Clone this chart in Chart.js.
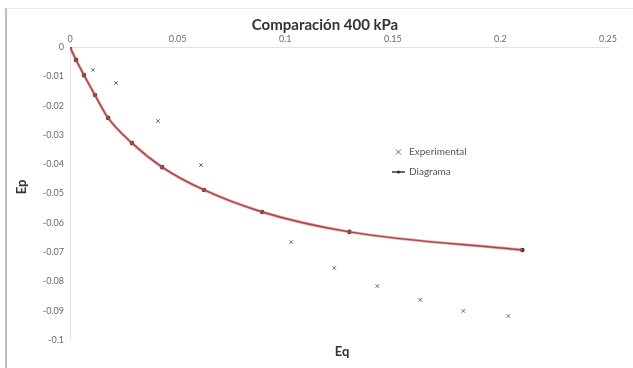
<!DOCTYPE html>
<html>
<head>
<meta charset="utf-8">
<script src="https://cdn.jsdelivr.net/npm/chart.js@4.4.0/dist/chart.umd.min.js"></script>
<style>
  html, body { margin: 0; padding: 0; background: #fff; }
  #wrap { position: relative; width: 633px; height: 368px; }
  #frame { position: absolute; left: 5px; top: 8px; width: 640px; height: 370px; border-left: 2px solid #bdbdbd; border-top: 1px solid #ececec; }
</style>
</head>
<body>
<div id="wrap">
  <div id="frame"></div>
  <canvas id="chart" width="633" height="368"></canvas>
</div>
<script>
// tick labels
const xTicks = [0, 0.05, 0.1, 0.15, 0.2, 0.25];
const yTicks = [0, -0.01, -0.02, -0.03, -0.04, -0.05, -0.06, -0.07, -0.08, -0.09, -0.1];

// Experimental series
const expX = [0, 0.0107, 0.0214, 0.0409, 0.0609, 0.1028, 0.1228, 0.1428, 0.1628, 0.1828, 0.2037];
const expY = [0, -0.0078, -0.0123, -0.0253, -0.0403, -0.0666, -0.0754, -0.0816, -0.0863, -0.0901, -0.0918];

// Diagrama series
const diaX = [0, 0.0028, 0.0065, 0.0116, 0.0177, 0.0288, 0.0428, 0.0623, 0.0893, 0.1298, 0.2102];
const diaY = [0, -0.0044, -0.0096, -0.0164, -0.0242, -0.0328, -0.0410, -0.0488, -0.0563, -0.0631, -0.0693];

const toPoints = (xs, ys) => xs.map((x, i) => ({ x: x, y: ys[i] }));

const textPlugin = {
    id: 'texts',
    afterDraw(chart) {
        const c = chart.ctx;
        c.save();
        c.fillStyle = '#333';
        c.textAlign = 'center';
        c.textBaseline = 'middle';
        c.font = 'bold 15px Lato, "Open Sans", sans-serif';
        c.fillText('Comparación 400 kPa', 325, 25);
        c.font = 'bold 13px Lato, "Open Sans", sans-serif';
        c.fillText('Eq', 342, 352);
        c.save();
        c.translate(22, 187);
        c.rotate(-Math.PI / 2);
        c.fillText('Ep', 0, 0);
        c.restore();

        // legend
        const lx = 392, ly = [152, 172];
        c.strokeStyle = '#666';
        c.lineWidth = 1;
        c.beginPath();
        c.moveTo(lx + 4, ly[0] - 2.5); c.lineTo(lx + 9, ly[0] + 2.5);
        c.moveTo(lx + 9, ly[0] - 2.5); c.lineTo(lx + 4, ly[0] + 2.5);
        c.stroke();
        c.strokeStyle = '#333';
        c.lineWidth = 1.5;
        c.beginPath();
        c.moveTo(lx, ly[1]); c.lineTo(lx + 13, ly[1]);
        c.stroke();
        c.beginPath();
        c.arc(lx + 6.5, ly[1], 1.6, 0, Math.PI * 2);
        c.fillStyle = '#333';
        c.fill();
        c.fillStyle = '#555';
        c.textAlign = 'left';
        c.font = '10px Lato, "Open Sans", sans-serif';
        c.fillText('Experimental', lx + 17, ly[0]);
        c.fillText('Diagrama', lx + 17, ly[1]);
        c.restore();
    }
};

new Chart(document.getElementById('chart').getContext('2d'), {
    type: 'scatter',
    data: {
        datasets: [
            {
                label: 'Diagrama (curva)',
                data: toPoints(diaX, diaY),
                showLine: true,
                borderColor: 'rgba(235, 90, 90, 0.55)',
                borderWidth: 3,
                pointRadius: 0,
                cubicInterpolationMode: 'monotone'
            },
            {
                label: 'Diagrama',
                data: toPoints(diaX, diaY),
                showLine: true,
                borderColor: '#3a3a3a',
                borderWidth: 1.4,
                pointRadius: 1.6,
                pointBackgroundColor: '#3a3a3a',
                pointBorderColor: '#3a3a3a',
                cubicInterpolationMode: 'monotone'
            },
            {
                label: 'Experimental',
                data: toPoints(expX, expY),
                showLine: false,
                pointStyle: 'crossRot',
                pointRadius: 2.5,
                borderWidth: 1,
                pointBorderColor: '#666',
                pointBackgroundColor: '#666'
            }
        ]
    },
    options: {
        responsive: false,
        animation: false,
        layout: { padding: { left: 30, right: 25, top: 30, bottom: 28 } },
        plugins: {
            legend: { display: false },
            tooltip: { enabled: false }
        },
        scales: {
            x: {
                type: 'linear',
                position: 'top',
                min: 0,
                max: 0.25,
                afterBuildTicks: (scale) => { scale.ticks = xTicks.map(v => ({ value: v })); },
                afterFit: (scale) => { scale.height = 17; },
                grid: { display: false, tickLength: 3, color: '#e0e0e0' },
                border: { color: '#e3e3e3' },
                ticks: {
                    color: '#6a6a6a',
                    font: { size: 9, family: 'Lato, "Open Sans", sans-serif' },
                    padding: 0,
                    maxRotation: 0,
                    callback: (v) => String(Math.round(v * 100) / 100)
                }
            },
            y: {
                type: 'linear',
                min: -0.1,
                max: 0,
                afterBuildTicks: (scale) => { scale.ticks = yTicks.map(v => ({ value: v })); },
                afterFit: (scale) => { scale.width = 40; },
                grid: { display: false, tickLength: 3, color: '#e0e0e0' },
                border: { color: '#e3e3e3' },
                ticks: {
                    color: '#6a6a6a',
                    font: { size: 9, family: 'Lato, "Open Sans", sans-serif' },
                    padding: 3,
                    callback: (v) => String(Math.round(v * 100) / 100)
                }
            }
        }
    },
    plugins: [textPlugin]
});
</script>
</body>
</html>
